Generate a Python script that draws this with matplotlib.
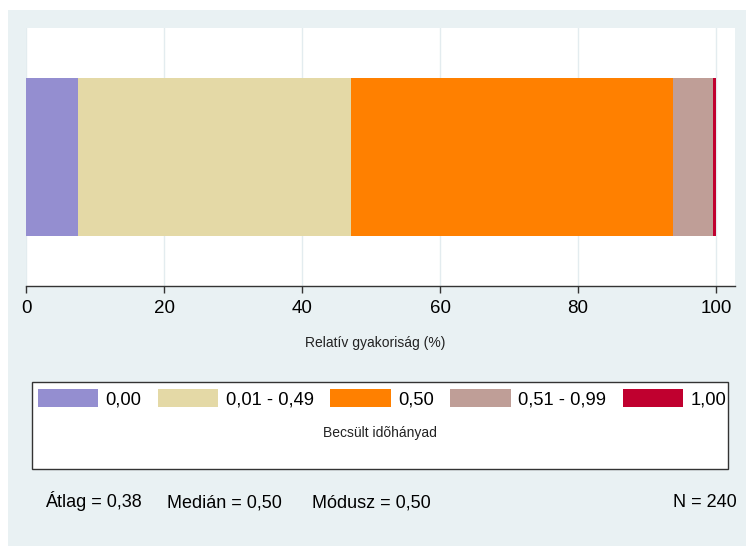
import numpy as np
import matplotlib.pyplot as plt
from matplotlib.patches import Rectangle

plt.rcParams['font.family'] = ['Liberation Sans', 'DejaVu Sans']

# Data (relative frequencies in %, N = 240)
categories = ['0,00', '0,01 - 0,49', '0,50', '0,51 - 0,99', '1,00']
percents = [7.5, 39.6, 46.7, 5.8, 0.4]
colors = ['#948ed0', '#e4d9a6', '#ff8000', '#bf9e97', '#c0002f']
ticks = [0, 20, 40, 60, 80, 100]
stats = ['Átlag = 0,38', 'Medián = 0,50', 'Módusz = 0,50']
n_text = 'N = 240'

W, H = 746, 546
fig = plt.figure(figsize=(W / 100, H / 100), dpi=100)
fig.patch.set_facecolor('white')

# light background panel
bg = '#e9f1f3'
fig.patches.append(Rectangle((8 / W, 0), 1 - 8 / W, 1 - 10 / H,
                             transform=fig.transFigure, facecolor=bg,
                             edgecolor='none', zorder=-2))

ax = fig.add_axes([26 / W, (H - 286) / H, (735 - 26) / W, (286 - 28) / H])
ax.set_facecolor('white')
ax.set_zorder(1)

# stacked horizontal bar
left = 0
handles = []
for lab, p, c in zip(categories, percents, colors):
    b = ax.barh(0, p, left=left, height=1, color=c, edgecolor='none',
                label=lab, zorder=2)
    handles.append(b)
    left += p

ax.set_xlim(0, 102.75)
ax.set_ylim(-0.82, 0.82)
ax.set_xticks(ticks)
ax.set_xticklabels([str(t) for t in ticks], fontsize=13.5)
ax.set_yticks([])
ax.grid(axis='x', color='#e3ecef', linewidth=1, zorder=1)
for s in ['top', 'right', 'left']:
    ax.spines[s].set_visible(False)
ax.spines['bottom'].set_color('#333333')
ax.spines['bottom'].set_linewidth(1)
ax.tick_params(axis='x', length=5, width=1, color='#333333', pad=5)

fig.text(375 / W, 1 - 343 / H, 'Relatív gyakoriság (%)', fontsize=10,
         ha='center', va='center', color='#222222')

# legend box
fig.patches.append(Rectangle((32 / W, (H - 469) / H), 696 / W, 87 / H,
                             transform=fig.transFigure, facecolor='white',
                             edgecolor='#333333', linewidth=1, zorder=-1))
leg = fig.legend(handles=handles, labels=categories, loc='center',
                 bbox_to_anchor=(382 / W, 1 - 399 / H), ncol=5,
                 frameon=False, fontsize=13.2, handlelength=3.3,
                 handleheight=1.1, handletextpad=0.4, columnspacing=0.9,
                 borderpad=0, borderaxespad=0)
fig.text(380 / W, 1 - 433 / H, 'Becsült idõhányad', fontsize=10,
         ha='center', va='center', color='#222222')

# note line
xs = [45, 167, 312]
for x, s in zip(xs, stats):
    fig.text(x / W, 1 - 507 / H, s, fontsize=13, ha='left', va='baseline')
fig.text(737 / W, 1 - 507 / H, n_text, fontsize=13, ha='right',
         va='baseline')

fig.savefig('out.png', dpi=100, facecolor=fig.get_facecolor())
